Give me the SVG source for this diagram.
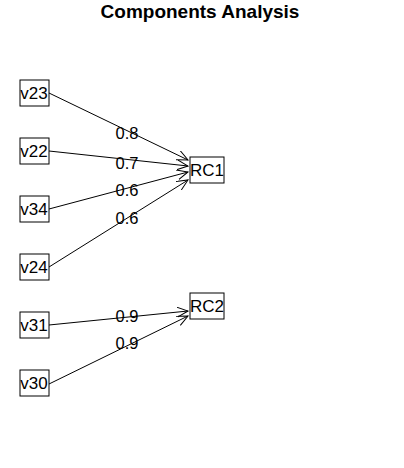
<svg xmlns="http://www.w3.org/2000/svg" width="404" height="468" viewBox="0 0 404 468">
  <style>
    .box { fill: #ffffff; stroke: #000000; stroke-width: 1; }
    .lbl { font-family: "Liberation Sans", Arial, sans-serif; font-size: 17px; fill: #000000; text-anchor: middle; }
    .wt { font-family: "Liberation Sans", Arial, sans-serif; font-size: 16.5px; fill: #000000; text-anchor: middle; }
    .edge { stroke: #000000; stroke-width: 1; fill: none; marker-end: url(#open); }
    .title { font-family: "Liberation Sans", Arial, sans-serif; font-size: 19px; font-weight: bold; fill: #000000; text-anchor: middle; }
  </style>
  <defs>
    <marker id="open" markerUnits="userSpaceOnUse" markerWidth="14" markerHeight="12" refX="11" refY="5" orient="auto">
      <path d="M0,0 L11,5 L0,10" fill="none" stroke="#000000" stroke-width="1"/>
    </marker>
  </defs>
  <rect width="404" height="468" fill="#ffffff"/>
  <text class="title" x="200" y="18">Components Analysis</text>

  <g id="connectors">
    <line class="edge" x1="49" y1="93" x2="188" y2="160"/>
    <line class="edge" x1="49" y1="151" x2="188" y2="166"/>
    <line class="edge" x1="49" y1="209" x2="188" y2="172"/>
    <line class="edge" x1="49" y1="267" x2="188" y2="180"/>
    <line class="edge" x1="49" y1="325" x2="188" y2="311"/>
    <line class="edge" x1="49" y1="384" x2="188" y2="316"/>
    <text class="wt" x="127" y="139">0.8</text>
    <text class="wt" x="127" y="169">0.7</text>
    <text class="wt" x="127" y="196">0.6</text>
    <text class="wt" x="127" y="224">0.6</text>
    <text class="wt" x="127" y="322">0.9</text>
    <text class="wt" x="127" y="349">0.9</text>
  </g>

  <g id="v23"><rect class="box" x="20" y="80" width="29" height="26"/><text class="lbl" x="34" y="99">v23</text></g>
  <g id="v22"><rect class="box" x="20" y="138" width="29" height="26"/><text class="lbl" x="34" y="157">v22</text></g>
  <g id="v34"><rect class="box" x="20" y="196" width="29" height="26"/><text class="lbl" x="34" y="215">v34</text></g>
  <g id="v24"><rect class="box" x="20" y="254" width="29" height="26"/><text class="lbl" x="34" y="273">v24</text></g>
  <g id="v31"><rect class="box" x="20" y="312" width="29" height="26"/><text class="lbl" x="34" y="331">v31</text></g>
  <g id="v30"><rect class="box" x="20" y="370" width="29" height="26"/><text class="lbl" x="34" y="389">v30</text></g>
  <g id="RC1"><rect class="box" x="190" y="157" width="34" height="26"/><text class="lbl" x="207" y="176">RC1</text></g>
  <g id="RC2"><rect class="box" x="190" y="293" width="34" height="26"/><text class="lbl" x="207" y="312">RC2</text></g>
</svg>
